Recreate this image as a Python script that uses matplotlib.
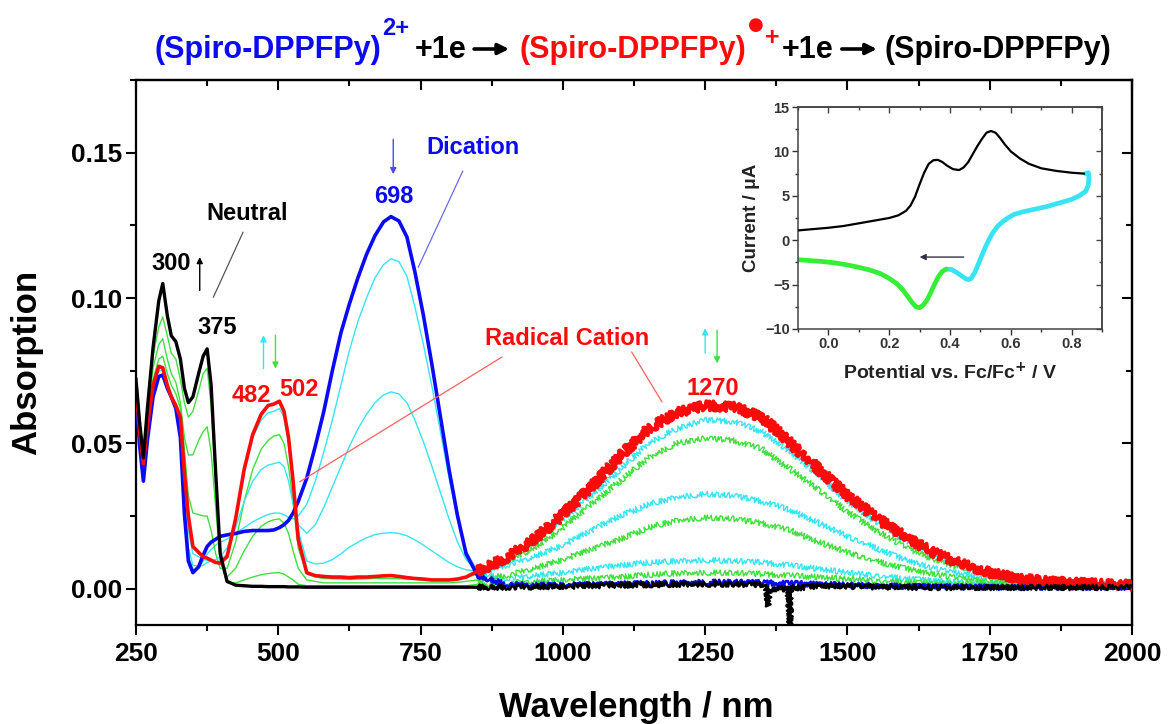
import numpy as np
import matplotlib
matplotlib.use("Agg")
import matplotlib.pyplot as plt
from matplotlib.ticker import MultipleLocator, FormatStrFormatter

plt.rcParams['font.family'] = ['Liberation Sans', 'DejaVu Sans']
plt.rcParams['mathtext.fontset'] = 'dejavusans'

# ---------------- data: spectroelectrochemistry ----------------
wavelength = [250, 256, 263, 270, 280, 290, 297, 305, 312, 320,
              328, 335, 342, 350, 360, 368, 375, 382, 390, 398,
              410, 425, 440, 455, 470, 482, 492, 502, 510, 518,
              526, 535, 550, 565, 580, 595, 610, 625, 640, 655,
              670, 685, 698, 712, 726, 740, 755, 770, 785, 800,
              815, 830, 850,
              900, 950, 1000, 1050, 1100, 1150, 1200, 1250, 1300, 1350,
              1400, 1450, 1500, 1550, 1600, 1650, 1700, 1750, 1800, 1850,
              1900, 1950, 2000]

neutral = [0.072, 0.058, 0.045, 0.062, 0.083, 0.099, 0.105, 0.094, 0.087, 0.085,
           0.079, 0.069, 0.064, 0.066, 0.074, 0.080, 0.0825, 0.070, 0.040, 0.012,
           0.0025, 0.0012, 0.001, 0.0008, 0.0008, 0.0007, 0.0007, 0.0007, 0.0007, 0.0006,
           0.0006, 0.0006, 0.0005, 0.0005, 0.0005, 0.0005, 0.0005, 0.0005, 0.0005, 0.0005,
           0.0005, 0.0005, 0.0005, 0.0005, 0.0005, 0.0005, 0.0005, 0.0005, 0.0005, 0.0005,
           0.0005, 0.0005, 0.0005,
           0.0005, 0.0006, 0.0008, 0.001, 0.0012, 0.0014, 0.0015, 0.0016, 0.0015, 0.0014,
           0.0012, 0.001, 0.0008, 0.0006, 0.0005, 0.0004, 0.0004, 0.0004, 0.0004, 0.0004,
           0.0004, 0.0004, 0.0004]
# detector glitches in the neutral trace
neutral_glitch_wl = [1358, 1361, 1364, 1396, 1399, 1402]
neutral_glitch_abs = [0.0, -0.006, 0.0, 0.0, -0.013, 0.0]

radical = [0.070, 0.055, 0.043, 0.056, 0.070, 0.0765, 0.076, 0.070, 0.066, 0.063,
           0.059, 0.040, 0.025, 0.0145, 0.0125, 0.011, 0.0105, 0.0098, 0.009, 0.0088,
           0.011, 0.024, 0.041, 0.053, 0.060, 0.063, 0.0635, 0.0645, 0.061, 0.052,
           0.037, 0.017, 0.0055, 0.0045, 0.0042, 0.004, 0.004, 0.0038, 0.004, 0.004,
           0.0042, 0.0044, 0.0045, 0.0042, 0.0038, 0.0035, 0.0033, 0.003, 0.003, 0.003,
           0.0033, 0.004, 0.006,
           0.0105, 0.017, 0.0255, 0.035, 0.0455, 0.055, 0.0605, 0.063, 0.0625, 0.059,
           0.050, 0.041, 0.032, 0.0245, 0.018, 0.0125, 0.0085, 0.0055, 0.0035, 0.0025,
           0.002, 0.0015, 0.0012]

dication = [0.068, 0.050, 0.037, 0.051, 0.066, 0.073, 0.0735, 0.069, 0.066, 0.062,
            0.052, 0.026, 0.0095, 0.0055, 0.0075, 0.0115, 0.0145, 0.016, 0.017, 0.018,
            0.0185, 0.019, 0.0197, 0.020, 0.020, 0.020, 0.0202, 0.021, 0.022, 0.0235,
            0.026, 0.030, 0.038, 0.049, 0.061, 0.075, 0.088, 0.098, 0.107, 0.115,
            0.1215, 0.1262, 0.128, 0.1265, 0.121, 0.109, 0.094, 0.077, 0.059, 0.041,
            0.025, 0.012, 0.0045,
            0.0015, 0.0012, 0.0012, 0.0014, 0.0016, 0.0018, 0.002, 0.0022, 0.0022, 0.002,
            0.0018, 0.0015, 0.0012, 0.001, 0.0008, 0.0007, 0.0006, 0.0005, 0.0005, 0.0005,
            0.0005, 0.0005, 0.0005]

cyan_1 = [0.068, 0.050, 0.037, 0.051, 0.066, 0.073, 0.073, 0.069, 0.066, 0.062,
          0.053, 0.029, 0.011, 0.0065, 0.007, 0.0095, 0.012, 0.0135, 0.015, 0.016,
          0.017, 0.019, 0.021, 0.023, 0.0245, 0.0255, 0.026, 0.026, 0.0255, 0.0245,
          0.024, 0.025, 0.029, 0.037, 0.047, 0.058, 0.070, 0.082, 0.092, 0.100,
          0.107, 0.1115, 0.1135, 0.1125, 0.1075, 0.097, 0.084, 0.0695, 0.054, 0.038,
          0.024, 0.013, 0.006,
          0.0035, 0.0045, 0.0055, 0.0068, 0.008, 0.009, 0.0095, 0.0098, 0.0095, 0.009,
          0.008, 0.0068, 0.0055, 0.0045, 0.0035, 0.0028, 0.0022, 0.0018, 0.0015, 0.0012,
          0.001, 0.001, 0.001]

cyan_2 = [0.068, 0.050, 0.037, 0.051, 0.066, 0.073, 0.073, 0.069, 0.066, 0.062,
          0.054, 0.032, 0.014, 0.008, 0.0078, 0.008, 0.009, 0.0095, 0.010, 0.011,
          0.014, 0.021, 0.030, 0.037, 0.041, 0.0425, 0.043, 0.0435, 0.042, 0.037,
          0.029, 0.022, 0.019, 0.022, 0.028, 0.035, 0.042, 0.049, 0.055, 0.060,
          0.064, 0.0667, 0.0677, 0.067, 0.064, 0.058, 0.0505, 0.042, 0.033, 0.024,
          0.016, 0.010, 0.006,
          0.008, 0.011, 0.015, 0.020, 0.025, 0.029, 0.0315, 0.0325, 0.032, 0.030,
          0.027, 0.0225, 0.018, 0.014, 0.010, 0.007, 0.005, 0.0035, 0.0025, 0.002,
          0.0015, 0.0012, 0.001]

cyan_3 = [0.069, 0.053, 0.040, 0.054, 0.069, 0.075, 0.075, 0.070, 0.066, 0.063,
          0.058, 0.038, 0.020, 0.012, 0.011, 0.010, 0.0098, 0.0095, 0.0092, 0.0095,
          0.012, 0.024, 0.040, 0.052, 0.058, 0.0605, 0.061, 0.062, 0.059, 0.050,
          0.036, 0.020, 0.0095, 0.0085, 0.0088, 0.010, 0.012, 0.0143, 0.016, 0.0175,
          0.0186, 0.0191, 0.0193, 0.019, 0.0182, 0.0168, 0.015, 0.013, 0.011, 0.009,
          0.0075, 0.0065, 0.006,
          0.010, 0.016, 0.0235, 0.032, 0.041, 0.050, 0.055, 0.058, 0.0575, 0.054,
          0.047, 0.039, 0.030, 0.023, 0.0165, 0.0115, 0.008, 0.005, 0.0035, 0.0025,
          0.002, 0.0015, 0.001]

green_1 = [0.070, 0.056, 0.044, 0.057, 0.072, 0.079, 0.080, 0.074, 0.070, 0.067,
           0.062, 0.048, 0.032, 0.026, 0.0255, 0.025, 0.025, 0.020, 0.012, 0.007,
           0.007, 0.016, 0.030, 0.041, 0.048, 0.051, 0.0525, 0.053, 0.050, 0.042,
           0.030, 0.014, 0.005, 0.004, 0.0035, 0.0034, 0.0033, 0.0032, 0.0033, 0.0034,
           0.0035, 0.0035, 0.0035, 0.0034, 0.0033, 0.0032, 0.003, 0.003, 0.003, 0.003,
           0.0032, 0.0038, 0.005,
           0.009, 0.014, 0.021, 0.029, 0.037, 0.045, 0.050, 0.0517, 0.051, 0.048,
           0.041, 0.034, 0.0265, 0.020, 0.0145, 0.010, 0.007, 0.0045, 0.003, 0.0022,
           0.0018, 0.0014, 0.0012]

green_2 = [0.071, 0.057, 0.044, 0.058, 0.076, 0.084, 0.086, 0.079, 0.074, 0.071,
           0.064, 0.052, 0.046, 0.046, 0.051, 0.054, 0.0557, 0.047, 0.028, 0.009,
           0.004, 0.007, 0.013, 0.018, 0.0215, 0.023, 0.0237, 0.024, 0.0225, 0.019,
           0.013, 0.007, 0.003, 0.0025, 0.002, 0.002, 0.002, 0.002, 0.002, 0.002,
           0.002, 0.002, 0.002, 0.002, 0.002, 0.002, 0.002, 0.002, 0.002, 0.002,
           0.0022, 0.0025, 0.003,
           0.0045, 0.007, 0.010, 0.0135, 0.017, 0.021, 0.0235, 0.0244, 0.024, 0.0225,
           0.020, 0.016, 0.0125, 0.0095, 0.007, 0.005, 0.0035, 0.0025, 0.002, 0.0015,
           0.0012, 0.001, 0.001]

green_3 = [0.071, 0.058, 0.044, 0.059, 0.080, 0.090, 0.0935, 0.087, 0.081, 0.079,
           0.072, 0.064, 0.059, 0.061, 0.068, 0.074, 0.0758, 0.063, 0.036, 0.010,
           0.002, 0.002, 0.003, 0.004, 0.0048, 0.0052, 0.0054, 0.0055, 0.005, 0.004,
           0.003, 0.0015, 0.001, 0.001, 0.001, 0.001, 0.001, 0.001, 0.001, 0.001,
           0.001, 0.001, 0.001, 0.001, 0.001, 0.001, 0.001, 0.001, 0.001, 0.001,
           0.001, 0.001, 0.0015,
           0.002, 0.0025, 0.003, 0.0035, 0.004, 0.0048, 0.0053, 0.0055, 0.0054, 0.005,
           0.0045, 0.004, 0.0033, 0.0027, 0.0022, 0.0018, 0.0015, 0.0012, 0.001, 0.001,
           0.001, 0.001, 0.001]

for arr_ in (neutral, radical, dication, cyan_1, cyan_2, cyan_3, green_1, green_2, green_3):
    assert len(arr_) == len(wavelength)

# ---------------- data: cyclic voltammogram (inset) ----------------
cv_fwd_E = [-0.10, -0.05, 0.0, 0.05, 0.10, 0.15, 0.20, 0.23, 0.255, 0.27,
            0.285, 0.30, 0.315, 0.33, 0.345, 0.36, 0.375, 0.39, 0.41, 0.43,
            0.445, 0.46, 0.475, 0.49, 0.505, 0.52, 0.535, 0.55, 0.565, 0.58,
            0.60, 0.63, 0.66, 0.70, 0.75, 0.80, 0.84]
cv_fwd_I = [1.1, 1.25, 1.4, 1.6, 1.9, 2.2, 2.5, 2.8, 3.3, 3.9,
            4.9, 6.3, 7.6, 8.6, 9.0, 9.05, 8.8, 8.4, 8.0, 7.9,
            8.2, 8.8, 9.7, 10.6, 11.4, 12.1, 12.3, 12.1, 11.5, 10.8,
            10.0, 9.2, 8.6, 8.1, 7.8, 7.6, 7.5]
cv_rev1_E = [0.845, 0.855, 0.857, 0.855, 0.846, 0.825, 0.80, 0.76, 0.72, 0.68,
             0.64, 0.61, 0.59, 0.57, 0.555, 0.54, 0.527, 0.515, 0.505, 0.493,
             0.482, 0.47, 0.46, 0.45, 0.433, 0.418, 0.405, 0.388]
cv_rev1_I = [7.5, 7.6, 7.0, 6.2, 5.5, 5.0, 4.6, 4.2, 3.8, 3.5,
             3.2, 2.9, 2.5, 2.0, 1.5, 0.8, 0.0, -0.9, -1.7, -2.7,
             -3.6, -4.3, -4.45, -4.3, -3.9, -3.55, -3.3, -3.25]
cv_rev2_E = [0.388, 0.375, 0.362, 0.35, 0.338, 0.325, 0.312, 0.30, 0.288, 0.275,
             0.26, 0.245, 0.225, 0.20, 0.17, 0.135, 0.10, 0.057, 0.02, -0.02,
             -0.06, -0.10]
cv_rev2_I = [-3.25, -3.5, -4.1, -4.9, -5.8, -6.7, -7.3, -7.6, -7.5, -7.0,
             -6.3, -5.6, -4.9, -4.3, -3.75, -3.35, -3.05, -2.75, -2.55, -2.4,
             -2.3, -2.2]

# ---------------- figure ----------------
W, H = 1169, 724
fig = plt.figure(figsize=(W / 100, H / 100), dpi=100)
ax = fig.add_axes([136 / W, 1 - 625 / H, (1132 - 136) / W, (625 - 80) / H])

wl = np.array(wavelength)
vis = wl <= 850
nir = wl >= 850

BLUE = '#0a0af5'
RED = '#ff0a0a'
CYAN = '#35e6f2'
GREEN = '#3ee03e'

thin = [(cyan_1, CYAN), (green_1, GREEN), (cyan_2, CYAN), (green_2, GREEN),
        (cyan_3, CYAN), (green_3, GREEN)]
for ys, c in thin:
    y = np.array(ys)
    ax.plot(wl[vis], y[vis], color=c, lw=1.0, zorder=2)
    ln, = ax.plot(wl[nir], y[nir], color=c, lw=1.0, zorder=2)
    ln.set_sketch_params(scale=2.8, length=1.2, randomness=2.5)

y = np.array(dication)
ax.plot(wl[vis], y[vis], color=BLUE, lw=2.6, zorder=3, solid_joinstyle='round')
ln, = ax.plot(wl[nir], y[nir], color=BLUE, lw=1.8, zorder=3)
ln.set_sketch_params(scale=2.6, length=1.2, randomness=2.5)

y = np.array(radical)
ax.plot(wl[vis], y[vis], color=RED, lw=2.6, zorder=4, solid_joinstyle='round')
ln, = ax.plot(wl[nir], y[nir], color=RED, lw=3.0, zorder=4)
ln.set_sketch_params(scale=4.5, length=1.2, randomness=2.5)

y_n = np.array(neutral)
ax.plot(wl[vis], y_n[vis], color='k', lw=2.4, zorder=5, solid_joinstyle='round')
nir_wl = np.concatenate([wl[nir], neutral_glitch_wl])
nir_y = np.concatenate([y_n[nir], neutral_glitch_abs])
order = np.argsort(nir_wl)
ln, = ax.plot(nir_wl[order], nir_y[order], color='k', lw=1.8, zorder=5)
ln.set_sketch_params(scale=2.6, length=1.2, randomness=2.5)

ax.set_xlim(250, 2000)
ax.set_ylim(-0.0125, 0.175)
ax.xaxis.set_major_locator(MultipleLocator(250))
ax.xaxis.set_minor_locator(MultipleLocator(125))
ax.yaxis.set_major_locator(MultipleLocator(0.05))
ax.yaxis.set_minor_locator(MultipleLocator(0.025))
ax.yaxis.set_major_formatter(FormatStrFormatter('%.2f'))
ax.tick_params(which='both', direction='out', width=1.5, labelsize=19)
ax.tick_params(which='major', length=7)
ax.tick_params(which='minor', length=4)
ax.tick_params(axis='x', pad=5)
ax.tick_params(axis='y', pad=3)
for lab in ax.get_xticklabels() + ax.get_yticklabels():
    lab.set_fontweight('bold')
for s in ax.spines.values():
    s.set_linewidth(1.6)

secx = ax.secondary_xaxis('top')
secx.xaxis.set_major_locator(MultipleLocator(250))
secx.xaxis.set_minor_locator(MultipleLocator(125))
secx.tick_params(which='both', direction='in', labeltop=False, width=1.5)
secx.tick_params(which='major', length=7)
secx.tick_params(which='minor', length=4)
secy = ax.secondary_yaxis('right')
secy.yaxis.set_major_locator(MultipleLocator(0.05))
secy.yaxis.set_minor_locator(MultipleLocator(0.025))
secy.tick_params(which='both', direction='in', labelright=False, width=1.5)
secy.tick_params(which='major', length=7)
secy.tick_params(which='minor', length=4)
for sa in (secx, secy):
    for s in sa.spines.values():
        s.set_linewidth(1.6)

fig.text(27 / W, 1 - 362 / H, 'Absorption', rotation=90, ha='center', va='center',
         fontsize=25, fontweight='bold')
fig.text(636 / W, 1 - 717 / H, 'Wavelength / nm', ha='center', va='baseline',
         fontsize=25, fontweight='bold')

# ---------------- annotations ----------------
def lbl(x, y, s, c):
    ax.text(x, y, s, color=c, fontsize=17, fontweight='bold', ha='center', va='center', zorder=6)

lbl(311, 0.112, '300', 'k')
lbl(392, 0.090, '375', 'k')
lbl(445, 0.129, 'Neutral', 'k')
lbl(452, 0.0666, '482', RED)
lbl(536, 0.0686, '502', RED)
lbl(703, 0.135, '698', BLUE)
lbl(842, 0.1517, 'Dication', BLUE)
lbl(1007, 0.0861, 'Radical Cation', RED)
lbl(1263, 0.069, '1270', RED)

def arr(x, y0, y1, c):
    ax.annotate('', xy=(x, y1), xytext=(x, y0),
                arrowprops=dict(arrowstyle='-|>', color=c, lw=1.0, mutation_scale=9,
                                shrinkA=0, shrinkB=0), zorder=6)

arr(362, 0.1026, 0.1141, 'k')
arr(702, 0.1546, 0.1426, '#4a4af0')
arr(474, 0.0757, 0.0872, CYAN)
arr(495, 0.0872, 0.0757, GREEN)
arr(1250, 0.0810, 0.0896, CYAN)
arr(1271, 0.0889, 0.0775, GREEN)

def seg(x0, y0, x1, y1, c):
    ax.plot([x0, x1], [y0, y1], color=c, lw=0.9, zorder=6)

seg(438, 0.1226, 386, 0.1003, '#555555')
seg(824, 0.1436, 746, 0.1106, '#6a6af0')
seg(893, 0.0797, 538, 0.0368, '#ff6060')
seg(1121, 0.0814, 1174, 0.0643, '#ff6060')

# ---------------- title ----------------
renderer = fig.canvas.get_renderer()
BASE = 58
pieces = [
    ('t', '(Spiro-DPPFPy)', BLUE, 22, 0, 0, None),
    ('t', '2+', BLUE, 17, 23, 1, None),
    ('t', '+1e', 'k', 22, 0, 5, None),
    ('a', None, 'k', 0, 0, 8, None),
    ('t', '(Spiro-DPPFPy)', RED, 22, 0, 10, None),
    ('t', '\u25CF', RED, 13, 28, 2, 'DejaVu Sans'),
    ('t', '+', RED, 18, 13, 1, None),
    ('t', '+1e', 'k', 22, 0, 3, None),
    ('a', None, 'k', 0, 0, 8, None),
    ('t', '(Spiro-DPPFPy)', 'k', 22, 0, 8, None),
]
ARROW_W = 35
widths = []
for kind, s, c, fs, dy, gap, fam in pieces:
    if kind == 't':
        kw = {'family': fam} if fam else {}
        t = fig.text(0, 0, s, fontsize=fs, fontweight='bold', **kw)
        widths.append(t.get_window_extent(renderer).width)
        t.remove()
    else:
        widths.append(ARROW_W)
total = sum(widths) + sum(p[5] for p in pieces)
x = 633 - total / 2
for (kind, s, c, fs, dy, gap, fam), w in zip(pieces, widths):
    x += gap
    if kind == 't':
        kw = {'family': fam} if fam else {}
        fig.text(x / W, 1 - (BASE - dy) / H, s, color=c, fontsize=fs, fontweight='bold',
                 ha='left', va='baseline', **kw)
    else:
        yc = H - 49
        fig.add_artist(matplotlib.patches.FancyArrowPatch(
            (x, yc), (x + ARROW_W, yc), transform=None, arrowstyle='-|>',
            mutation_scale=16, lw=2.6, color=c, shrinkA=0, shrinkB=0))
    x += w

# ---------------- inset ----------------
axi = fig.add_axes([798 / W, 1 - 329 / H, (1102 - 798) / W, (329 - 107) / H])
axi.plot(cv_fwd_E, cv_fwd_I, color='k', lw=1.6, zorder=3, solid_joinstyle='round')
axi.plot(cv_rev1_E, cv_rev1_I, color='#38e4f4', lw=3.4, zorder=2, solid_capstyle='round',
         solid_joinstyle='round')
axi.plot(cv_rev2_E, cv_rev2_I, color='#35ee35', lw=3.4, zorder=2, solid_capstyle='round',
         solid_joinstyle='round')
axi.annotate('', xy=(0.30, -1.9), xytext=(0.445, -1.9),
             arrowprops=dict(arrowstyle='-|>', color='#333344', lw=1.0, mutation_scale=9,
                             shrinkA=0, shrinkB=0))
axi.set_xlim(-0.1, 0.9)
axi.set_ylim(-10, 15)
axi.xaxis.set_major_locator(MultipleLocator(0.2))
axi.xaxis.set_minor_locator(MultipleLocator(0.1))
axi.yaxis.set_major_locator(MultipleLocator(5))
axi.yaxis.set_minor_locator(MultipleLocator(2.5))
axi.xaxis.set_major_formatter(FormatStrFormatter('%.1f'))
axi.tick_params(which='both', direction='out', width=1.0, labelsize=10.5, colors='#333333',
                pad=2)
axi.tick_params(which='major', length=4)
axi.tick_params(which='minor', length=2.5)
for lab in axi.get_xticklabels() + axi.get_yticklabels():
    lab.set_fontweight('bold')
for s in axi.spines.values():
    s.set_linewidth(1.1)
    s.set_color('#444444')
sxi = axi.secondary_xaxis('top')
sxi.xaxis.set_major_locator(MultipleLocator(0.2))
sxi.xaxis.set_minor_locator(MultipleLocator(0.1))
sxi.tick_params(which='both', direction='in', labeltop=False, width=1.0, colors='#444444')
sxi.tick_params(which='major', length=4)
sxi.tick_params(which='minor', length=2.5)
syi = axi.secondary_yaxis('right')
syi.yaxis.set_major_locator(MultipleLocator(5))
syi.yaxis.set_minor_locator(MultipleLocator(2.5))
syi.tick_params(which='both', direction='in', labelright=False, width=1.0, colors='#444444')
syi.tick_params(which='major', length=4)
syi.tick_params(which='minor', length=2.5)
for sa in (sxi, syi):
    for s in sa.spines.values():
        s.set_linewidth(1.1)
        s.set_color('#444444')
fig.text(752 / W, 1 - 218 / H, 'Current / \u03bcA', rotation=90, ha='center', va='center',
         fontsize=13.5, fontweight='bold', color='#222222')
fig.text(950 / W, 1 - 379 / H, r'Potential vs. Fc/Fc$^{\mathbf{+}}$ / V', ha='center',
         va='baseline', fontsize=14, fontweight='bold', color='#222222')

fig.savefig('out.png', dpi=100)
